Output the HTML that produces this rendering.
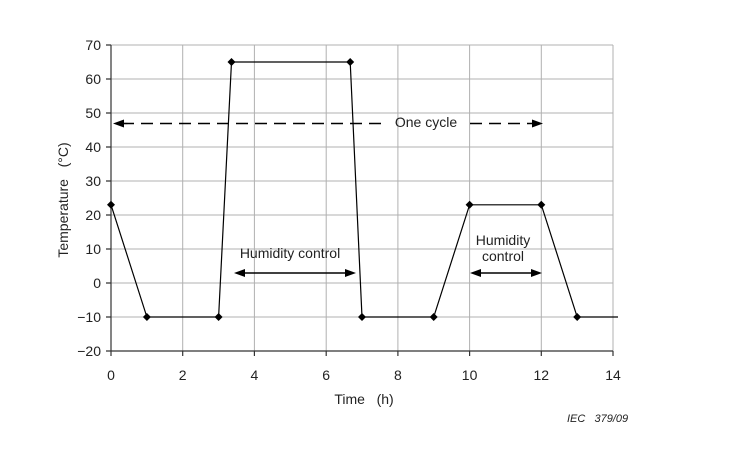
<!DOCTYPE html><html><head><style>body{margin:0;background:#fff}</style></head><body>
<svg width="740" height="445" xmlns="http://www.w3.org/2000/svg" font-family="Liberation Sans, sans-serif" font-size="14" fill="#222">
<g stroke="#b0b0b0" stroke-width="1">
<line x1="182.7" y1="45" x2="182.7" y2="351"/><line x1="254.4" y1="45" x2="254.4" y2="351"/><line x1="326.2" y1="45" x2="326.2" y2="351"/><line x1="397.9" y1="45" x2="397.9" y2="351"/><line x1="469.6" y1="45" x2="469.6" y2="351"/><line x1="541.3" y1="45" x2="541.3" y2="351"/><line x1="613" y1="45" x2="613" y2="351"/>
<line x1="111" y1="45" x2="613" y2="45"/><line x1="111" y1="79" x2="613" y2="79"/><line x1="111" y1="113" x2="613" y2="113"/><line x1="111" y1="147" x2="613" y2="147"/><line x1="111" y1="181" x2="613" y2="181"/><line x1="111" y1="215" x2="613" y2="215"/><line x1="111" y1="249" x2="613" y2="249"/><line x1="111" y1="283" x2="613" y2="283"/><line x1="111" y1="317" x2="613" y2="317"/>
</g>
<g stroke="#333" stroke-width="1.2"><line x1="111" y1="45" x2="111" y2="351"/><line x1="111" y1="351" x2="613" y2="351"/>
<path d="M106 45h5M106 79h5M106 113h5M106 147h5M106 181h5M106 215h5M106 249h5M106 283h5M106 317h5M106 351h5M111 351v5M182.7 351v5M254.4 351v5M326.2 351v5M397.9 351v5M469.6 351v5M541.3 351v5M613 351v5"/></g>
<g text-anchor="end"><text x="101" y="50">70</text><text x="101" y="84">60</text><text x="101" y="118">50</text><text x="101" y="152">40</text><text x="101" y="186">30</text><text x="101" y="220">20</text><text x="101" y="254">10</text><text x="101" y="288">0</text><text x="101" y="322">−10</text><text x="101" y="356">−20</text></g>
<g text-anchor="middle"><text x="111" y="380">0</text><text x="182.7" y="380">2</text><text x="254.4" y="380">4</text><text x="326.2" y="380">6</text><text x="397.9" y="380">8</text><text x="469.6" y="380">10</text><text x="541.3" y="380">12</text><text x="613" y="380">14</text>
<text x="364" y="404">Time&#160;&#160;&#160;(h)</text>
<text transform="translate(68,200) rotate(-90)">Temperature&#160;&#160;&#160;(°C)</text>
<text x="290" y="258">Humidity control</text><text x="503" y="245">Humidity</text><text x="503" y="261">control</text><text x="426" y="127">One cycle</text></g>
<text x="567" y="422" font-size="11" font-style="italic">IEC&#160;&#160;&#160;379/09</text>
<polyline fill="none" stroke="#000" stroke-width="1.2" points="111,204.8 146.9,317 218.6,317 231.5,62 350.2,62 362,317 433.7,317 469.6,204.8 541.3,204.8 577.2,317 618,317"/>
<g fill="#000"><path d="M0,-4L4,0L0,4L-4,0Z" transform="translate(111,204.8)"/>
<path d="M0,-4L4,0L0,4L-4,0Z" transform="translate(146.9,317)"/><path d="M0,-4L4,0L0,4L-4,0Z" transform="translate(218.6,317)"/><path d="M0,-4L4,0L0,4L-4,0Z" transform="translate(231.5,62)"/><path d="M0,-4L4,0L0,4L-4,0Z" transform="translate(350.2,62)"/><path d="M0,-4L4,0L0,4L-4,0Z" transform="translate(362,317)"/><path d="M0,-4L4,0L0,4L-4,0Z" transform="translate(433.7,317)"/><path d="M0,-4L4,0L0,4L-4,0Z" transform="translate(469.6,204.8)"/><path d="M0,-4L4,0L0,4L-4,0Z" transform="translate(541.3,204.8)"/><path d="M0,-4L4,0L0,4L-4,0Z" transform="translate(577.2,317)"/></g>
<g stroke="#000" stroke-width="1.6" fill="none"><line x1="122" y1="123.5" x2="382" y2="123.5" stroke-dasharray="12,7"/><line x1="470" y1="123.5" x2="534" y2="123.5" stroke-dasharray="12,7"/>
<line x1="243" y1="273" x2="347" y2="273"/><line x1="478" y1="273" x2="533" y2="273"/></g>
<g fill="#000"><path d="M113,123.5l11,-4v8z"/><path d="M543,123.5l-11,-4v8z"/>
<path d="M234,273l11,-4v8z"/><path d="M356,273l-11,-4v8z"/><path d="M470,273l11,-4v8z"/><path d="M542,273l-11,-4v8z"/></g>
</svg></body></html>
